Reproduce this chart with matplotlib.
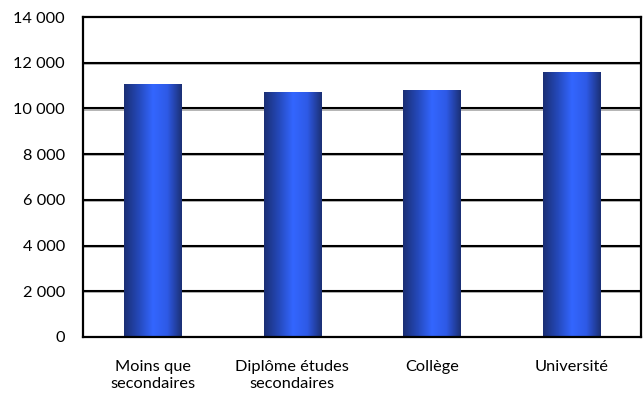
import matplotlib
matplotlib.use("Agg")
import matplotlib.pyplot as plt
import matplotlib.transforms as mtransforms
import numpy as np
from matplotlib.colors import LinearSegmentedColormap

categories = ["Moins que\nsecondaires", "Diplôme études\nsecondaires", "Collège", "Université"]
values = [11070, 10720, 10810, 11600]
yticks = [0, 2000, 4000, 6000, 8000, 10000, 12000, 14000]
ytick_labels = ["0", "2 000", "4 000", "6 000", "8 000", "10 000", "12 000", "14 000"]

plt.rcParams['font.family'] = ['Lato', 'DejaVu Sans']

fig = plt.figure(figsize=(6.43, 3.93), dpi=100)
ax = fig.add_axes([83/643, 56/393, 558/643, 320/393])
ax.set_xlim(-0.5, len(categories) - 0.5)
ax.set_ylim(0, 14000)

# gridlines with subtle shadow
shadow = mtransforms.offset_copy(ax.get_yaxis_transform(), fig=fig, x=0, y=-1.2, units="dots")
for y in yticks[1:-1]:
    ax.plot([0, 1], [y, y], color="#a8a8a8", lw=1.2, zorder=1, transform=shadow)
    ax.axhline(y, color="black", lw=1.5, zorder=1.1)

cmap = LinearSegmentedColormap.from_list(
    "bar", ["#1b2f74", "#2448b8", "#3366ff", "#2e5ae6", "#1b2f74"])
grad = np.linspace(0, 1, 256).reshape(1, -1)

width = 0.41
bars = ax.bar(range(len(categories)), values, width=width, color="none",
              edgecolor="none", zorder=2)
for b in bars:
    x0, y0 = b.get_x(), b.get_y()
    w, h = b.get_width(), b.get_height()
    im = ax.imshow(grad, cmap=cmap, aspect="auto",
                   extent=[x0, x0 + w, y0, y0 + h], zorder=2.5,
                   interpolation="bilinear")
    im.set_clip_path(b)

ax.set_xlim(-0.5, len(categories) - 0.5)
ax.set_ylim(0, 14000)

ax.set_yticks(yticks)
ax.set_yticklabels(ytick_labels, fontsize=11.8)
ax.set_xticks(range(len(categories)))
ax.set_xticklabels(categories, fontsize=11.8, linespacing=1.25)
ax.tick_params(axis="y", length=0, pad=13)
ax.tick_params(axis="x", length=0, pad=16.5)

for s in ax.spines.values():
    s.set_linewidth(1.6)
    s.set_color("black")
    s.set_zorder(5)

fig.savefig("out.png", dpi=100)
